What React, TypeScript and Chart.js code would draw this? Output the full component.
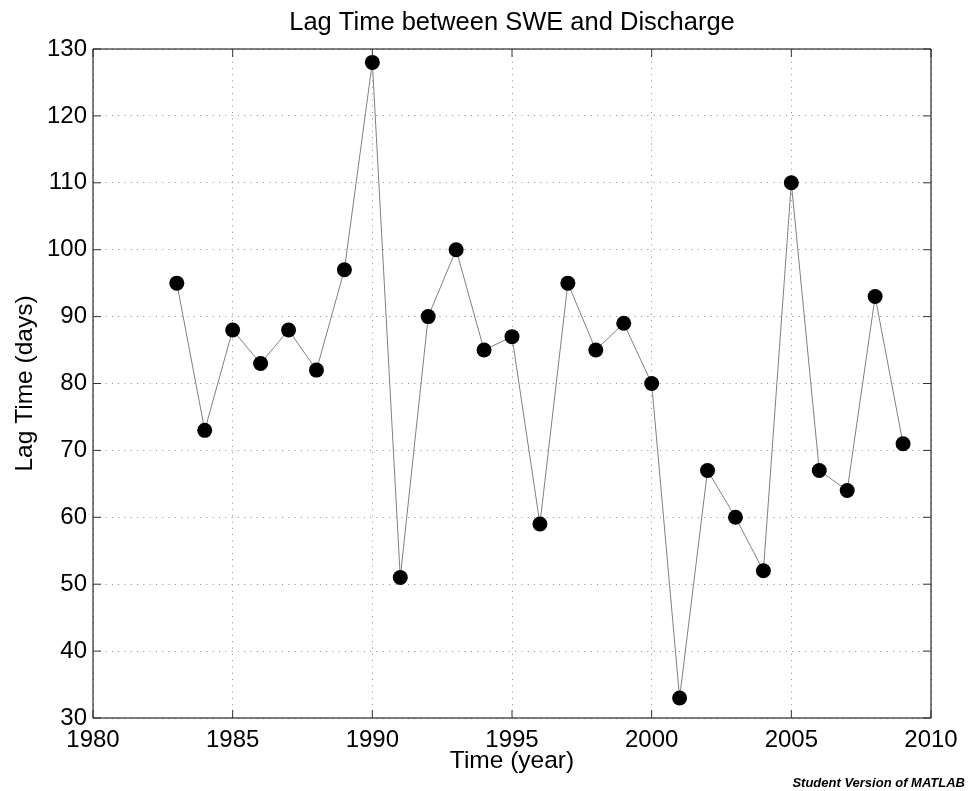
import React, { useEffect, useRef } from "react";
import { Chart, registerables } from "chart.js";

Chart.register(...registerables);

const years = [1983, 1984, 1985, 1986, 1987, 1988, 1989, 1990, 1991, 1992, 1993, 1994, 1995, 1996, 1997, 1998, 1999, 2000, 2001, 2002, 2003, 2004, 2005, 2006, 2007, 2008, 2009];
const lagDays = [95, 73, 88, 83, 88, 82, 97, 128, 51, 90, 100, 85, 87, 59, 95, 85, 89, 80, 33, 67, 60, 52, 110, 67, 64, 93, 71];

const titleText = "Lag Time between SWE and Discharge";
const xTitle = "Time (year)";
const yTitle = "Lag Time (days)";
const watermark = "Student Version of MATLAB";

const FONT = "'Liberation Sans', Helvetica, Arial, sans-serif";

const boxPlugin = {
  id: "matlabBox",
  afterDatasetsDraw(chart: any) {
    const { ctx, chartArea, scales } = chart;
    const { left, right, top, bottom } = chartArea;
    ctx.save();
    ctx.strokeStyle = "#000";
    ctx.lineWidth = 1;
    ctx.setLineDash([]);
    ctx.beginPath();
    ctx.rect(left, top, right - left, bottom - top);
    ctx.stroke();
    const tl = 8;
    ctx.strokeStyle = "#333";
    ctx.beginPath();
    scales.x.ticks.forEach((t: any) => {
      const px = scales.x.getPixelForValue(t.value);
      ctx.moveTo(px, bottom);
      ctx.lineTo(px, bottom - tl);
      ctx.moveTo(px, top);
      ctx.lineTo(px, top + tl);
    });
    scales.y.ticks.forEach((t: any) => {
      const py = scales.y.getPixelForValue(t.value);
      ctx.moveTo(left, py);
      ctx.lineTo(left + tl, py);
      ctx.moveTo(right, py);
      ctx.lineTo(right - tl, py);
    });
    ctx.stroke();
    ctx.restore();
  },
  afterDraw(chart: any) {
    const { ctx } = chart;
    ctx.save();
    ctx.font = `italic bold 13px ${FONT}`;
    ctx.fillStyle = "#000";
    ctx.textAlign = "right";
    ctx.textBaseline = "alphabetic";
    ctx.fillText(watermark, 965, 787);
    ctx.restore();
  },
};

export default function App() {
  const ref = useRef<HTMLCanvasElement>(null);
  useEffect(() => {
    if (!ref.current) return;
    const chart = new Chart(ref.current, {
      type: "line",
      data: {
        datasets: [
          {
            data: years.map((y, i) => ({ x: y, y: lagDays[i] })),
            borderColor: "#808080",
            borderWidth: 1,
            pointRadius: 7.5,
            pointBackgroundColor: "#000",
            pointBorderColor: "#000",
            pointBorderWidth: 0,
            tension: 0,
          },
        ],
      },
      options: {
        animation: false,
        responsive: false,
        layout: { padding: { top: 0, left: 0, right: 40, bottom: 0 } },
        plugins: {
          legend: { display: false },
          tooltip: { enabled: false },
          title: {
            display: true,
            text: titleText,
            fullSize: false,
            color: "#000",
            font: { family: FONT, size: 25.5, weight: "normal" },
            padding: { top: 7.5, bottom: 10.9 },
          },
        },
        scales: {
          x: {
            type: "linear",
            min: 1980,
            max: 2010,
            afterFit: (s: any) => {
              s.height = 73;
            },
            ticks: {
              stepSize: 5,
              color: "#000",
              padding: 8,
              font: { family: FONT, size: 24 },
              callback: (v: any) => String(v),
            },
            grid: {
              color: "#8c8c8c",
              lineWidth: 1,
              drawTicks: false,
            },
            border: { display: false, dash: [1, 5.3] },
            title: {
              display: true,
              text: xTitle,
              color: "#000",
              font: { family: FONT, size: 24.5 },
              padding: { top: 0, bottom: 15 },
            },
          },
          y: {
            type: "linear",
            min: 30,
            max: 130,
            afterFit: (s: any) => {
              s.width = 93;
            },
            ticks: {
              stepSize: 10,
              color: "#000",
              padding: 6,
              font: { family: FONT, size: 24 },
              callback: (v: any) => String(v),
            },
            grid: {
              color: "#8c8c8c",
              lineWidth: 1,
              drawTicks: false,
            },
            border: { display: false, dash: [1, 5.3] },
            title: {
              display: true,
              text: yTitle,
              color: "#000",
              font: { family: FONT, size: 24.5 },
              padding: { top: 10.3, bottom: 0 },
            },
          },
        },
      },
      plugins: [boxPlugin],
    });
    return () => chart.destroy();
  }, []);
  return (
    <div style={{ position: "absolute", left: 0, top: 0, width: 971, height: 791, background: "#fff" }}>
      <canvas ref={ref} width={971} height={791} />
    </div>
  );
}
